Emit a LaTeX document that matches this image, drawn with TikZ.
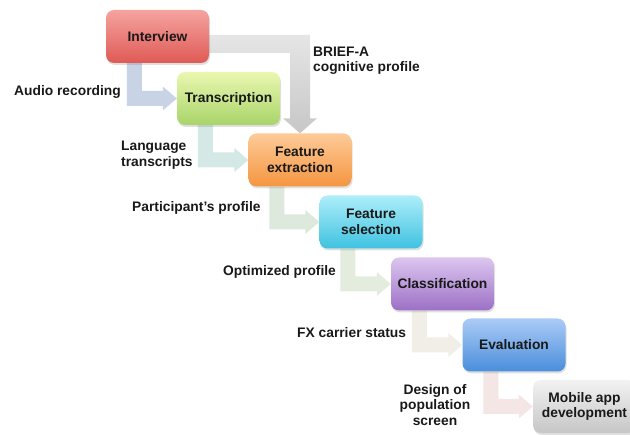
\documentclass[tikz,border=0pt]{standalone}
\usepackage{fontspec}
\setmainfont{Liberation Sans}
\usetikzlibrary{calc,shadows}
\pgfdeclarelayer{background}
\pgfsetlayers{background,main}
\definecolor{intTop}{HTML}{F5A3A0}
\definecolor{intBot}{HTML}{DF5A55}
\definecolor{traTop}{HTML}{EAF7B0}
\definecolor{traBot}{HTML}{A9D46A}
\definecolor{feTop}{HTML}{FDCB98}
\definecolor{feBot}{HTML}{F59640}
\definecolor{fsTop}{HTML}{AEEEFA}
\definecolor{fsBot}{HTML}{3EC2E0}
\definecolor{clTop}{HTML}{DCC6EF}
\definecolor{clBot}{HTML}{9C70C6}
\definecolor{evTop}{HTML}{ABCBF6}
\definecolor{evBot}{HTML}{4A8EDB}
\definecolor{moTop}{HTML}{F2F2F2}
\definecolor{moBot}{HTML}{C6C6C6}
\definecolor{arA}{HTML}{C9D3E6}
\definecolor{arB}{HTML}{D4E8E6}
\definecolor{arC}{HTML}{DCE9DC}
\definecolor{arD}{HTML}{E4ECDD}
\definecolor{arE}{HTML}{F0EEE7}
\definecolor{arF}{HTML}{F4E6E4}
\tikzset{
  stage/.style={rounded corners=8pt, minimum width=103pt, minimum height=53pt,
    align=center, inner sep=2pt,
    font=\fontsize{13.8}{15.5}\selectfont\bfseries, text=black!90,
    drop shadow={shadow xshift=1pt, shadow yshift=-2pt, opacity=0.25}},
  lbl/.style={inner sep=0pt, align=left, font=\fontsize{13.8}{15.5}\selectfont\bfseries, text=black!90},
}
\newcommand\bentarr[3]{%
  \fill[#3] let \p1=(#1.south west), \p2=(#2.west) in
   (\x1+21pt,\y1) -- (\x1+36pt,\y1) -- (\x1+36pt,\y2+7.5pt) -- (\x2-14pt,\y2+7.5pt)
   -- (\x2-14pt,\y2+12pt) -- (\x2,\y2) -- (\x2-14pt,\y2-12pt) -- (\x2-14pt,\y2-7.5pt)
   -- (\x1+21pt,\y2-7.5pt) -- cycle;}
\begin{document}
\begin{tikzpicture}[x=1pt,y=-1pt]
\useasboundingbox (0,0) rectangle (630,435);
\node[stage, top color=intTop, bottom color=intBot] (int) at (157.5,36.5) {Interview};
\node[stage, top color=traTop, bottom color=traBot] (tra) at (228.5,98.5) {Transcription};
\node[stage, top color=feTop, bottom color=feBot] (fe) at (300,160) {Feature\\extraction};
\node[stage, top color=fsTop, bottom color=fsBot] (fs) at (371,222) {Feature\\selection};
\node[stage, top color=clTop, bottom color=clBot] (cl) at (442.5,284) {Classification};
\node[stage, top color=evTop, bottom color=evBot] (ev) at (514,345) {Evaluation};
\node[stage, top color=moTop, bottom color=moBot] (mo) at (584.5,406.5) {Mobile app\\development};

\begin{pgfonlayer}{background}
\bentarr{int}{tra}{arA}
\bentarr{tra}{fe}{arB}
\bentarr{fe}{fs}{arC}
\bentarr{fs}{cl}{arD}
\bentarr{cl}{ev}{arE}
\bentarr{ev}{mo}{arF}
\shade[top color=black!10, bottom color=black!22] let \p1=(int.east), \p2=(fe.north) in
  (\x1-2pt,\y1+1.5pt) -- (\x2+10pt,\y1+1.5pt) -- (\x2+10pt,\y2+15pt) -- (\x2+17pt,\y2+15pt)
  -- (\x2,\y2) -- (\x2-17pt,\y2+15pt) -- (\x2-10pt,\y2+15pt) -- (\x2-10pt,\y1-16.5pt)
  -- (\x1-2pt,\y1-16.5pt) -- cycle;
\end{pgfonlayer}

\node[lbl, anchor=west] (lbrief) at (313,60.5) {BRIEF-A\\cognitive profile};
\node[lbl, anchor=west] (laudio) at (14,92) {Audio recording};
\node[lbl, anchor=west] (llang) at (121,155) {Language\\transcripts};
\node[lbl, anchor=west] (lpart) at (132,208) {Participant’s profile};
\node[lbl, anchor=west] (lopt) at (223,272) {Optimized profile};
\node[lbl, anchor=west] (lfx) at (297,333) {FX carrier status};
\node[lbl, align=center] (ldes) at (435,405) {Design of\\population\\screen};
\end{tikzpicture}
\end{document}
